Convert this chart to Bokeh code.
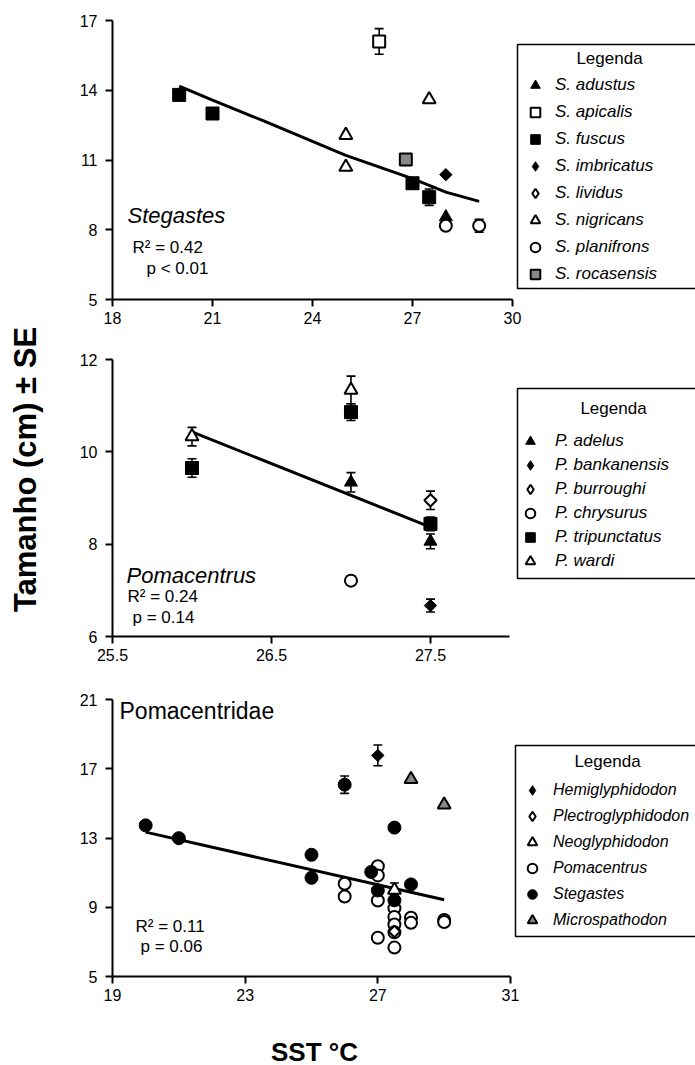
import math
from bokeh.plotting import figure
from bokeh.models import (Range1d, FixedTicker, Legend, LegendItem, Label, BoxAnnotation,
                          Whisker, TeeHead, ColumnDataSource)
from bokeh.layouts import column, row
from bokeh.embed import file_html
from bokeh.resources import INLINE

FONT = "Liberation Sans"
GRAY = "#888888"
NAN = float("nan")

# ---------------- Panel 1: Stegastes ----------------
p1_xticks = [18, 21, 24, 27, 30]
p1_yticks = [5, 8, 11, 14, 17]
s_adustus_x = [28.0]
s_adustus_y = [8.55]
s_apicalis_x = [26.0]
s_apicalis_y = [16.1]
s_apicalis_se = [0.55]
s_fuscus_x = [20.0, 21.0, 27.0, 27.5]
s_fuscus_y = [13.8, 13.0, 10.0, 9.4]
s_fuscus_se = [0.0, 0.0, 0.0, 0.35]
s_imbricatus_x = [28.0]
s_imbricatus_y = [10.37]
s_lividus_x = [NAN]   # not visible in the panel (legend entry only)
s_lividus_y = [NAN]
s_nigricans_x = [25.0, 25.0, 27.5]
s_nigricans_y = [12.07, 10.7, 13.6]
s_planifrons_x = [28.0, 29.0]
s_planifrons_y = [8.17, 8.17]
s_planifrons_se = [0.0, 0.28]
s_rocasensis_x = [26.8]
s_rocasensis_y = [11.02]
p1_trend_x = [20, 21, 22.5, 24, 25, 27, 28, 29]
p1_trend_y = [14.18, 13.58, 12.7, 11.8, 11.2, 10.2, 9.62, 9.22]

# ---------------- Panel 2: Pomacentrus ----------------
p2_xticks = [25.5, 26.5, 27.5]
p2_yticks = [6, 8, 10, 12]
p_adelus_x = [27.0, 27.5]
p_adelus_y = [9.34, 8.06]
p_adelus_se = [0.21, 0.16]
p_bankanensis_x = [27.5]
p_bankanensis_y = [6.67]
p_bankanensis_se = [0.14]
p_burroughi_x = [27.5]
p_burroughi_y = [8.95]
p_burroughi_se = [0.2]
p_chrysurus_x = [27.0]
p_chrysurus_y = [7.21]
p_chrysurus_se = [0.1]
p_tripunctatus_x = [26.0, 27.0, 27.5]
p_tripunctatus_y = [9.65, 10.86, 8.44]
p_tripunctatus_se = [0.2, 0.18, 0.15]
p_wardi_x = [26.0, 27.0]
p_wardi_y = [10.33, 11.34]
p_wardi_se = [0.2, 0.3]
p2_trend_x = [26.0, 27.5]
p2_trend_y = [10.43, 8.37]

# ---------------- Panel 3: Pomacentridae ----------------
p3_xticks = [19, 23, 27, 31]
p3_yticks = [5, 9, 13, 17, 21]
hemi_x = [27.0]
hemi_y = [17.77]
hemi_se = [0.6]
plectro_x = [27.5]
plectro_y = [7.6]
neo_x = [27.5]
neo_y = [10.0]
neo_se = [0.4]
pomac_x = [26, 26, 27, 27, 27, 27, 27.5, 27.5, 27.5, 27.5, 27.5, 28, 28, 29, 29]
pomac_y = [10.36, 9.62, 11.37, 10.84, 9.39, 7.24, 8.95, 8.44, 8.0, 7.55, 6.67, 8.39, 8.1, 8.27, 8.15]
steg_x = [20, 21, 25, 25, 26, 26.8, 27, 27.5, 27.5, 28]
steg_y = [13.73, 12.99, 12.03, 10.7, 16.08, 11.04, 9.97, 13.6, 9.4, 10.32]
steg_se = [0, 0, 0, 0, 0.5, 0, 0, 0, 0.35, 0]
micro_x = [28.0, 29.0]
micro_y = [16.4, 14.92]
p3_trend_x = [20.0, 29.0]
p3_trend_y = [13.34, 9.43]

DIAMOND_ANGLE = math.pi / 4


def make_fig(h, top, bottom, xr, yr, xbounds, xticks, yticks):
    p = figure(width=645, height=h, x_range=Range1d(*xr), y_range=Range1d(*yr),
               output_backend="svg", toolbar_location=None,
               min_border_left=62, min_border_right=0,
               min_border_top=top, min_border_bottom=bottom)
    p.outline_line_color = None
    p.grid.visible = False
    p.background_fill_color = "white"
    p.border_fill_color = "white"
    p.xaxis.bounds = xbounds
    p.xaxis.ticker = FixedTicker(ticks=xticks)
    p.yaxis.ticker = FixedTicker(ticks=yticks)
    for ax in p.axis:
        ax.axis_line_width = 2
        ax.axis_line_color = "black"
        ax.major_tick_line_width = 2
        ax.major_tick_line_color = "black"
        ax.major_tick_in = 0
        ax.major_tick_out = 7
        ax.minor_tick_line_color = None
        ax.major_label_text_font = FONT
        ax.major_label_text_font_size = "16px"
        ax.major_label_text_color = "black"
    p.xaxis.major_label_standoff = 5
    p.yaxis.major_label_standoff = 8
    return p


def text_fig(w, h):
    p = figure(width=w, height=h, x_range=Range1d(0, 1), y_range=Range1d(0, 1),
               output_backend="svg", toolbar_location=None,
               x_axis_location=None, y_axis_location=None,
               min_border_left=0, min_border_right=0, min_border_top=0, min_border_bottom=0)
    p.outline_line_color = None
    p.grid.visible = False
    p.background_fill_color = "white"
    p.border_fill_color = "white"
    return p


def errbars(p, xs, ys, ses):
    xx, up, lo = [], [], []
    for x, y, s in zip(xs, ys, ses):
        if s > 0:
            xx.append(x)
            up.append(y + s)
            lo.append(y - s)
    src = ColumnDataSource(dict(x=xx, upper=up, lower=lo))
    w = Whisker(source=src, base="x", upper="upper", lower="lower", dimension="height",
                line_width=1.6, line_color="black", level="underlay",
                upper_head=TeeHead(size=9, line_width=1.6, line_color="black"),
                lower_head=TeeHead(size=9, line_width=1.6, line_color="black"))
    p.add_layout(w)


def pts(p, xs, ys, marker, fill, size, lw=2.0):
    """Returns (plotted renderer, renderer used for the legend swatch)."""
    if marker == "diamond":
        r = p.scatter(xs, ys, marker="square", angle=DIAMOND_ANGLE, size=size * 0.62,
                      fill_color=fill, line_color="black", line_width=lw)
        # legend swatch: same style as a diamond marker (legend swatches are not rotated)
        sw = p.scatter([NAN], [NAN], marker="diamond", size=size,
                       fill_color=fill, line_color="black", line_width=lw)
        return r, sw
    r = p.scatter(xs, ys, marker=marker, size=size, fill_color=fill,
                  line_color="black", line_width=lw)
    return r, r


def text(p, x, y, s, size, style="normal", align="left", baseline="middle", angle=0.0):
    p.add_layout(Label(x=x, y=y, x_units="screen", y_units="screen", text=s,
                       text_font=FONT, text_font_size=size, text_font_style=style,
                       text_align=align, text_baseline=baseline, angle=angle,
                       text_color="black"))


def legend_box(p, left, bottom, top, title_x, title_y):
    p.add_layout(BoxAnnotation(left=left, right=left + 230, bottom=bottom, top=top,
                               left_units="screen", right_units="screen",
                               bottom_units="screen", top_units="screen",
                               fill_alpha=0, line_color="black", line_alpha=1.0,
                               line_width=1.5))
    text(p, title_x, title_y, "Legenda", "17px", align="center")


def make_legend(p, items, loc, gh, spacing, standoff, fsize="17px"):
    leg = Legend(items=[LegendItem(label=l, renderers=[r[1]]) for l, r in items],
                 location=loc, glyph_width=24, glyph_height=gh, label_height=gh,
                 spacing=spacing, padding=0, margin=0, label_standoff=standoff,
                 border_line_color=None, background_fill_alpha=0,
                 label_text_font=FONT, label_text_font_style="italic",
                 label_text_font_size=fsize, label_text_color="black")
    p.add_layout(leg)


# ---------- Figure 1 ----------
p1 = make_fig(336, 20, 37, (18, 35.49), (5, 17), (18, 30), p1_xticks, p1_yticks)
p1.line(p1_trend_x, p1_trend_y, line_width=3, line_color="black")
errbars(p1, s_apicalis_x, s_apicalis_y, s_apicalis_se)
errbars(p1, s_fuscus_x, s_fuscus_y, s_fuscus_se)
errbars(p1, s_planifrons_x, s_planifrons_y, s_planifrons_se)
r_adu = pts(p1, s_adustus_x, s_adustus_y, "triangle", "black", 13, 1)
r_api = pts(p1, s_apicalis_x, s_apicalis_y, "square", "white", 12)
r_fus = pts(p1, s_fuscus_x, s_fuscus_y, "square", "black", 13, 1)
r_imb = pts(p1, s_imbricatus_x, s_imbricatus_y, "diamond", "black", 14, 1)
r_liv = pts(p1, s_lividus_x, s_lividus_y, "diamond", "white", 14)
r_nig = pts(p1, s_nigricans_x, s_nigricans_y, "triangle", "white", 13)
r_pla = pts(p1, s_planifrons_x, s_planifrons_y, "circle", "white", 12)
r_roc = pts(p1, s_rocasensis_x, s_rocasensis_y, "square", GRAY, 12)
legend_box(p1, 405, 11, 255, 497, 241)
make_legend(p1, [("S. adustus", r_adu), ("S. apicalis", r_api), ("S. fuscus", r_fus),
                 ("S. imbricatus", r_imb), ("S. lividus", r_liv), ("S. nigricans", r_nig),
                 ("S. planifrons", r_pla), ("S. rocasensis", r_roc)],
            (411, 12), 26, 1, 8)
text(p1, 15, 84, "Stegastes", "22px", style="italic")
text(p1, 20, 52, "R\u00b2 = 0.42", "17px")
text(p1, 34, 31, "p < 0.01", "17px")

# ---------- Figure 2 ----------
p2 = make_fig(332, 23, 32, (25.5, 29.167), (6, 12), (25.5, 28.0), p2_xticks, p2_yticks)
p2.line(p2_trend_x, p2_trend_y, line_width=3, line_color="black")
errbars(p2, p_adelus_x, p_adelus_y, p_adelus_se)
errbars(p2, p_bankanensis_x, p_bankanensis_y, p_bankanensis_se)
errbars(p2, p_burroughi_x, p_burroughi_y, p_burroughi_se)
errbars(p2, p_chrysurus_x, p_chrysurus_y, p_chrysurus_se)
errbars(p2, p_tripunctatus_x, p_tripunctatus_y, p_tripunctatus_se)
errbars(p2, p_wardi_x, p_wardi_y, p_wardi_se)
r_ade = pts(p2, p_adelus_x, p_adelus_y, "triangle", "black", 13, 1)
r_ban = pts(p2, p_bankanensis_x, p_bankanensis_y, "diamond", "black", 14, 1)
r_bur = pts(p2, p_burroughi_x, p_burroughi_y, "diamond", "white", 14)
r_chr = pts(p2, p_chrysurus_x, p_chrysurus_y, "circle", "white", 12)
r_tri = pts(p2, p_tripunctatus_x, p_tripunctatus_y, "square", "black", 13, 1)
r_war = pts(p2, p_wardi_x, p_wardi_y, "triangle", "white", 13)
legend_box(p2, 405, 58, 248, 501, 228)
make_legend(p2, [("P. adelus", r_ade), ("P. bankanensis", r_ban), ("P. burroughi", r_bur),
                 ("P. chrysurus", r_chr), ("P. tripunctatus", r_tri), ("P. wardi", r_war)],
            (406, 63), 24, 0, 13)
text(p2, 14, 61, "Pomacentrus", "22px", style="italic")
text(p2, 15, 40, "R\u00b2 = 0.24", "17px")
text(p2, 20, 19, "p = 0.14", "17px")

# ---------- Figure 3 ----------
p3 = make_fig(342, 31, 34, (19, 36.578), (5, 21), (19, 31), p3_xticks, p3_yticks)
p3.line(p3_trend_x, p3_trend_y, line_width=3, line_color="black")
errbars(p3, hemi_x, hemi_y, hemi_se)
errbars(p3, neo_x, neo_y, neo_se)
errbars(p3, steg_x, steg_y, steg_se)
r_pom = pts(p3, pomac_x, pomac_y, "circle", "white", 12)
r_neo = pts(p3, neo_x, neo_y, "triangle", "white", 13)
r_ple = pts(p3, plectro_x, plectro_y, "diamond", "white", 13)
r_ste = pts(p3, steg_x, steg_y, "circle", "black", 13, 1)
r_hem = pts(p3, hemi_x, hemi_y, "diamond", "black", 14, 1)
r_mic = pts(p3, micro_x, micro_y, "triangle", GRAY, 13)
legend_box(p3, 403, 40, 231, 495, 215)
make_legend(p3, [("Hemiglyphidodon", r_hem), ("Plectroglyphidodon", r_ple),
                 ("Neoglyphidodon", r_neo), ("Pomacentrus", r_pom),
                 ("Stegastes", r_ste), ("Microspathodon", r_mic)],
            (408, 43), 26, 0, 9, fsize="16px")
text(p3, 7, 266, "Pomacentridae", "23px")
text(p3, 23, 50, "R\u00b2 = 0.11", "17px")
text(p3, 28, 30, "p = 0.06", "17px")

# ---------- axis titles (separate text panels) ----------
sst = text_fig(645, 55)
text(sst, 202, 14, "SST \u00b0C", "26px", style="bold", align="center")

ylab = text_fig(50, 1065)
text(ylab, 25, 596, "Tamanho (cm) \u00b1 SE", "31px", style="bold", align="center",
     angle=math.pi / 2)

layout = row(ylab, column(p1, p2, p3, sst, spacing=0), spacing=0)
open("out.html", "w").write(file_html(layout, INLINE))
